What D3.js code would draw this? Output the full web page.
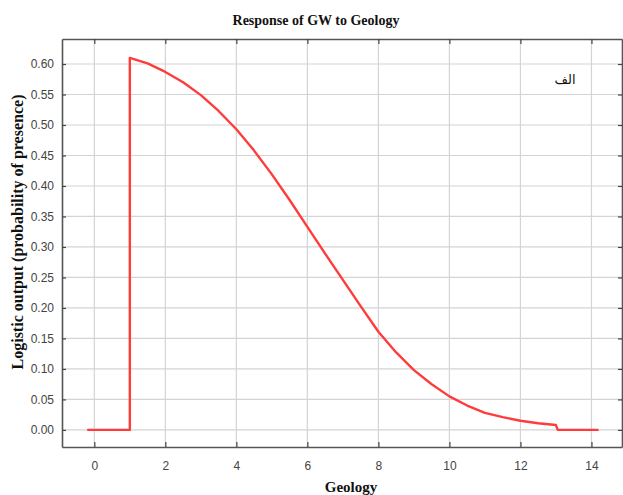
<!DOCTYPE html>
<html>
<head>
<meta charset="utf-8">
<script src="https://cdn.jsdelivr.net/npm/d3@7"></script>
<style>
  body { margin: 0; background: #fff; }
  svg { display: block; }
</style>
</head>
<body>
<div id="chart"></div>
<script>
// Response curve values
const geology = [-0.2, 1.0, 1.0, 1.5, 2.0, 2.5, 3.0, 3.5, 4.0, 4.5, 5.0, 5.5, 6.0, 6.5, 7.0, 7.5, 8.0, 8.5, 9.0, 9.5, 10.0, 10.5, 11.0, 11.5, 12.0, 12.5, 13.0, 13.05, 14.2];
const response = [0, 0, 0.61, 0.601, 0.587, 0.57, 0.549, 0.523, 0.493, 0.458, 0.419, 0.377, 0.333, 0.289, 0.246, 0.203, 0.161, 0.127, 0.098, 0.075, 0.055, 0.04, 0.028, 0.021, 0.015, 0.011, 0.008, 0, 0];
const xTicks = [0, 2, 4, 6, 8, 10, 12, 14];
const yTicks = [0, 0.05, 0.1, 0.15, 0.2, 0.25, 0.3, 0.35, 0.4, 0.45, 0.5, 0.55, 0.6];

const width = 623;
const height = 495;
const margin = { top: 39, right: 1, bottom: 48, left: 62 };

const svg = d3.select("#chart")
    .append("svg")
    .attr("width", width)
    .attr("height", height);

const x = d3.scaleLinear()
    .domain([-0.91, 14.86])
    .range([margin.left, width - margin.right]);

const y = d3.scaleLinear()
    .domain([-0.028, 0.641])
    .range([height - margin.bottom, margin.top]);

// Grid lines
svg.append("g")
    .selectAll("line")
    .data(xTicks)
    .enter()
    .append("line")
    .attr("x1", d => x(d))
    .attr("x2", d => x(d))
    .attr("y1", margin.top)
    .attr("y2", height - margin.bottom)
    .attr("stroke", "#d4d4d4")
    .attr("stroke-width", 1.2);

svg.append("g")
    .selectAll("line")
    .data(yTicks)
    .enter()
    .append("line")
    .attr("x1", margin.left)
    .attr("x2", width - margin.right)
    .attr("y1", d => y(d))
    .attr("y2", d => y(d))
    .attr("stroke", "#d4d4d4")
    .attr("stroke-width", 1.2);

// Axes with inward ticks
const tickColor = "#444";
const bottomAxis = svg.append("g")
    .attr("transform", `translate(0,${height - margin.bottom})`)
    .call(d3.axisBottom(x).tickValues(xTicks).tickSizeInner(-5).tickSizeOuter(0).tickPadding(14).tickFormat(d3.format("d")));
const topAxis = svg.append("g")
    .attr("transform", `translate(0,${margin.top})`)
    .call(d3.axisTop(x).tickValues(xTicks).tickSizeInner(-5).tickSizeOuter(0).tickFormat(""));
const leftAxis = svg.append("g")
    .attr("transform", `translate(${margin.left},0)`)
    .call(d3.axisLeft(y).tickValues(yTicks).tickSizeInner(-4).tickSizeOuter(0).tickPadding(8).tickFormat(d3.format(".2f")));
const rightAxis = svg.append("g")
    .attr("transform", `translate(${width - margin.right},0)`)
    .call(d3.axisRight(y).tickValues(yTicks).tickSizeInner(-4).tickSizeOuter(0).tickFormat(""));

[bottomAxis, topAxis, leftAxis, rightAxis].forEach(g => {
    g.select(".domain").attr("stroke", "#555").attr("stroke-width", 1.6);
    g.selectAll(".tick line").attr("stroke", tickColor).attr("stroke-width", 1.2);
    g.selectAll("text")
        .attr("font-family", "Liberation Sans, Arial, sans-serif")
        .attr("font-size", "12px")
        .attr("fill", "#444");
});

// Response curve
const line = d3.line()
    .x((d, i) => x(geology[i]))
    .y(d => y(d));

svg.append("path")
    .datum(response)
    .attr("d", line)
    .attr("fill", "none")
    .attr("stroke", "#ff3b3b")
    .attr("stroke-width", 2.4)
    .attr("stroke-linejoin", "round");

// Title
svg.append("text")
    .attr("x", 316)
    .attr("y", 25)
    .attr("text-anchor", "middle")
    .attr("font-family", "Liberation Serif, Times New Roman, serif")
    .attr("font-size", "14px")
    .attr("font-weight", "700")
    .attr("fill", "#111")
    .text("Response of GW to Geology");

// Axis labels
svg.append("text")
    .attr("x", 351)
    .attr("y", 492)
    .attr("text-anchor", "middle")
    .attr("font-family", "Liberation Serif, Times New Roman, serif")
    .attr("font-size", "15px")
    .attr("font-weight", "700")
    .attr("fill", "#111")
    .text("Geology");

svg.append("text")
    .attr("transform", "rotate(-90)")
    .attr("x", -232)
    .attr("y", 23)
    .attr("text-anchor", "middle")
    .attr("font-family", "Liberation Serif, Times New Roman, serif")
    .attr("font-size", "16px")
    .attr("font-weight", "700")
    .attr("fill", "#111")
    .text("Logistic output (probability of presence)");

// Panel mark
svg.append("text")
    .attr("x", 565)
    .attr("y", 84)
    .attr("text-anchor", "middle")
    .attr("font-family", "DejaVu Sans, Noto Sans, sans-serif")
    .attr("font-size", "13px")
    .attr("fill", "#111")
    .text("الف");
</script>
</body>
</html>
